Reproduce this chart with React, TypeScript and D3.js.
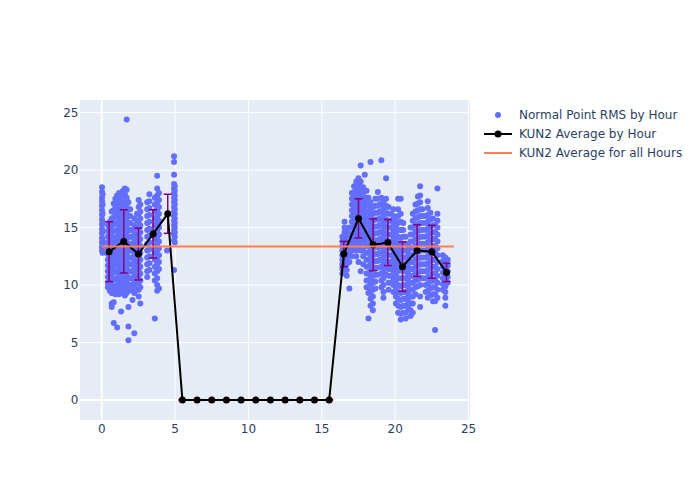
import React from "react";
import * as d3 from "d3";

// Normal point RMS samples, grouped in vertical passes: [hour, rms values]
const normalPointPasses: [number, number[]][] = [
  [0.02, [18.5, 18.1, 17.6, 17.3, 16.9, 16.5, 16.1, 15.7, 15.3, 14.9, 14.5, 14.1, 13.7, 13.3, 13.0]],
  [0.06, [17.9, 17.0, 16.2, 15.5, 14.7, 13.9, 13.5, 12.8]],
  [0.42, [15.2, 14.7, 14.2, 13.7, 13.2, 12.7, 12.2, 11.7, 11.2, 10.7, 10.2, 9.8]],
  [0.55, [15.5, 14.9, 14.4, 13.9, 13.4, 12.9, 12.4, 11.9, 11.4, 10.9, 10.4, 9.9, 9.5]],
  [0.68, [16.4, 15.8, 15.1, 14.5, 13.9, 13.3, 12.7, 12.1, 11.5, 10.9, 10.3, 9.7, 9.3, 8.4, 8.1]],
  [0.82, [17.1, 16.5, 15.9, 15.3, 14.7, 14.1, 13.5, 12.9, 12.3, 11.7, 11.1, 10.5, 9.9, 9.4, 8.5, 6.7]],
  [0.93, [17.5, 16.8, 16.1, 15.4, 14.7, 14.0, 13.3, 12.6, 11.9, 11.2, 10.5, 9.8, 9.2]],
  [1.05, [17.8, 17.2, 16.6, 16.0, 15.4, 14.8, 14.2, 13.6, 13.0, 12.4, 11.8, 11.2, 10.6, 10.0, 9.4, 6.3]],
  [1.18, [18.0, 17.5, 16.9, 16.3, 15.7, 15.1, 14.5, 13.9, 13.3, 12.7, 12.1, 11.5, 10.9, 10.3, 9.7, 9.2]],
  [1.32, [17.7, 17.1, 16.5, 15.9, 15.3, 14.7, 14.1, 13.5, 12.9, 12.3, 11.7, 11.1, 10.5, 9.9, 9.4, 7.7]],
  [1.45, [18.2, 17.8, 17.2, 16.6, 16.0, 15.4, 14.8, 14.2, 13.6, 13.0, 12.4, 11.8, 11.2, 10.6, 10.0, 9.5]],
  [1.58, [18.4, 17.9, 17.3, 16.7, 16.1, 15.5, 14.9, 14.3, 13.7, 13.1, 12.5, 11.9, 11.3, 10.7, 10.1, 9.6, 9.1]],
  [1.7, [24.4, 18.3, 17.6, 17.0, 16.4, 15.8, 15.2, 14.6, 14.0, 13.4, 12.8, 12.2, 11.6, 11.0, 10.4, 9.8, 9.3]],
  [1.82, [17.2, 16.6, 16.0, 15.4, 14.8, 14.2, 13.6, 13.0, 12.4, 11.8, 11.2, 10.6, 10.0, 9.5, 8.1, 6.4, 5.2]],
  [1.94, [16.6, 16.0, 15.4, 14.8, 14.2, 13.6, 13.0, 12.4, 11.8, 11.2, 10.6, 10.0, 9.6]],
  [2.1, [14.8, 14.2, 13.6, 13.0, 12.4, 11.8, 11.2, 10.6, 10.0, 9.5, 8.7]],
  [2.22, [15.8, 15.2, 14.6, 14.0, 13.4, 12.8, 12.2, 11.6, 11.0, 10.4, 9.8, 9.3, 5.8]],
  [2.4, [16.2, 15.6, 15.0, 14.4, 13.8, 13.2, 12.6, 12.0, 11.4, 10.8, 10.2, 9.6]],
  [2.52, [17.4, 16.8, 16.2, 15.6, 15.0, 14.4, 13.8, 13.2, 12.6, 12.0, 11.4, 10.8, 10.2, 9.6, 9.0]],
  [2.63, [17.0, 16.4, 15.8, 15.2, 14.6, 14.0, 13.4, 12.8, 12.2, 11.6, 11.0, 10.4, 9.8, 8.4]],
  [3.1, [17.2, 16.6, 16.0, 15.4, 14.8, 14.2, 13.6, 13.0, 12.4, 11.8, 11.2, 10.7]],
  [3.25, [17.9, 17.3, 16.7, 16.1, 15.5, 14.9, 14.3, 13.7, 13.1, 12.5, 11.9, 11.3]],
  [3.62, [17.6, 17.0, 16.4, 15.8, 15.2, 14.6, 14.0, 13.4, 12.8, 12.2, 11.6, 11.0, 10.4, 7.1]],
  [3.78, [19.5, 18.4, 17.8, 17.2, 16.6, 16.0, 15.4, 14.8, 14.2, 13.6, 13.0, 12.4, 11.8, 11.2, 10.6, 10.0, 9.5]],
  [3.9, [18.0, 17.4, 16.8, 16.2, 15.6, 15.0, 14.4, 13.8, 13.2, 12.6, 12.0, 11.4, 9.7]],
  [4.45, [13.0]],
  [4.93, [21.2, 20.7, 19.6, 18.8, 18.4, 18.0, 17.6, 17.2, 16.8, 16.4, 16.0, 15.6, 15.2, 14.8, 14.4, 13.9, 11.3]],
  [4.98, [18.6, 18.2, 17.8, 17.4, 17.0, 16.6, 16.2, 15.8, 15.4, 15.0, 14.6, 14.2, 13.7]],
  [16.4, [14.2, 13.8, 13.4, 13.0, 12.6, 12.2, 11.8, 11.4, 11.0]],
  [16.55, [15.5, 15.0, 14.6, 14.2, 13.8, 13.4, 13.0, 12.6, 12.2, 11.8, 11.4]],
  [16.7, [14.8, 14.3, 13.8, 13.3, 12.8, 12.3, 11.8, 11.3, 10.8]],
  [16.88, [15.0, 14.4, 13.8, 13.2, 12.6, 12.0, 9.7]],
  [17.05, [18.0, 17.5, 17.0, 16.5, 16.0, 15.5, 15.0, 14.5, 14.0, 13.5, 13.0, 12.5]],
  [17.2, [18.6, 18.1, 17.6, 17.1, 16.6, 16.1, 15.6, 15.1, 14.6, 14.1, 13.6, 13.1]],
  [17.35, [19.0, 18.5, 18.0, 17.5, 17.0, 16.5, 16.0, 15.5, 15.0, 14.5, 14.0, 13.5, 13.0, 12.5]],
  [17.5, [19.3, 18.8, 18.3, 17.8, 17.3, 16.8, 16.3, 15.8, 15.3, 14.8, 14.3, 13.8, 13.3, 12.0]],
  [17.65, [20.4, 19.0, 18.5, 18.0, 17.5, 17.0, 16.5, 16.0, 15.5, 15.0, 14.5, 14.0, 13.5, 13.0, 11.2]],
  [17.82, [18.5, 18.0, 17.5, 17.0, 16.5, 16.0, 15.5, 15.0, 14.5, 14.0, 13.5, 13.0, 12.5, 11.8]],
  [17.93, [19.6, 17.4, 16.8, 16.2, 15.6, 15.0, 14.4, 13.8]],
  [18.05, [18.2, 17.6, 17.0, 16.4, 15.8, 15.2, 14.6, 14.0, 13.4, 12.8, 12.2, 11.6, 11.0, 10.4, 9.8]],
  [18.18, [17.6, 17.0, 16.4, 15.8, 15.2, 14.6, 14.0, 13.4, 12.8, 12.2, 11.6, 11.0, 10.4, 9.8, 9.3, 7.1]],
  [18.32, [20.7, 17.2, 16.6, 16.0, 15.4, 14.8, 14.2, 13.6, 13.0, 12.4, 11.8, 11.2, 10.6, 10.0, 9.4, 8.8, 8.2]],
  [18.48, [16.8, 16.2, 15.6, 15.0, 14.4, 13.8, 13.2, 12.6, 12.0, 11.4, 10.8, 10.2, 9.6, 9.0, 8.4, 7.8]],
  [18.65, [17.5, 16.9, 16.3, 15.7, 15.1, 14.5, 13.9, 13.3, 12.7, 12.1, 11.5, 10.9, 10.3, 9.7]],
  [18.82, [18.1, 17.5, 16.9, 16.3, 15.7, 15.1, 14.5, 13.9, 13.3, 12.7, 12.1, 11.5, 10.9]],
  [18.95, [17.0, 16.4, 15.8, 15.2, 14.6, 14.0, 13.4, 12.8, 12.2]],
  [19.06, [20.85, 17.6, 17.0, 16.4, 15.8, 15.2, 14.6, 14.0, 13.4, 12.8, 12.2, 11.6, 11.0, 10.4, 9.8]],
  [19.2, [17.2, 16.6, 16.0, 15.4, 14.8, 14.2, 13.6, 13.0, 12.4, 11.8, 11.2, 10.6, 10.0, 9.4, 8.9]],
  [19.38, [19.3, 17.5, 16.9, 16.3, 15.7, 15.1, 14.5, 13.9, 13.3, 12.7, 12.1, 11.5, 10.9]],
  [19.55, [16.8, 16.2, 15.6, 15.0, 14.4, 13.8, 13.2, 12.6, 12.0, 11.4, 10.8, 10.2, 9.6]],
  [19.72, [16.2, 15.6, 15.0, 14.4, 13.8, 13.2, 12.6, 12.0, 11.4, 10.8, 10.2]],
  [19.88, [16.6, 16.0, 15.4, 14.8, 14.2, 13.6, 13.0, 12.4, 11.8, 11.2, 10.6, 10.0, 9.4]],
  [20.05, [15.6, 15.0, 14.4, 13.8, 13.2, 12.6, 12.0, 11.4, 10.8, 10.2, 9.6, 9.0, 8.4]],
  [20.2, [17.5, 16.6, 16.0, 15.4, 14.8, 14.2, 13.6, 13.0, 12.4, 11.8, 11.2, 10.6, 10.0, 9.4, 8.8, 8.2, 7.6]],
  [20.38, [17.5, 16.2, 15.5, 14.8, 14.1, 13.4, 12.7, 12.0, 11.3, 10.6, 9.9, 9.3, 8.7, 8.1, 7.5, 7.0]],
  [20.55, [15.4, 14.8, 14.2, 13.6, 13.0, 12.4, 11.8, 11.2, 10.6, 10.0, 9.4, 8.8, 8.2, 7.6]],
  [20.72, [14.2, 13.6, 13.0, 12.4, 11.8, 11.2, 10.6, 10.0, 9.4, 8.8, 8.2, 7.6, 7.1]],
  [20.88, [13.4, 12.8, 12.2, 11.6, 11.0, 10.4, 9.8, 9.2, 8.6, 8.0]],
  [21.05, [15.0, 14.4, 13.8, 13.2, 12.6, 12.0, 11.4, 10.8, 10.2, 9.6, 9.0, 8.4, 7.8, 7.3]],
  [21.2, [16.2, 15.6, 15.0, 14.4, 13.8, 13.2, 12.6, 12.0, 11.4, 10.8, 10.2, 9.6, 9.0, 8.4, 7.6]],
  [21.38, [17.0, 16.4, 15.8, 15.2, 14.6, 14.0, 13.4, 12.8, 12.2, 11.6, 11.0, 10.4, 9.8, 9.2]],
  [21.55, [17.7, 17.1, 16.5, 15.9, 15.3, 14.7, 14.1, 13.5, 12.9, 12.3, 11.7, 11.1, 10.5, 9.9]],
  [21.7, [18.6, 17.8, 17.2, 16.6, 16.0, 15.4, 14.8, 14.2, 13.6, 13.0, 12.4, 11.8, 11.2, 10.6, 10.0, 9.0, 8.1]],
  [21.85, [16.6, 16.0, 15.4, 14.8, 14.2, 13.6, 13.0, 12.4, 11.8, 11.2, 10.6]],
  [22.08, [16.0, 15.4, 14.8, 14.2, 13.6, 13.0, 12.4, 11.8, 11.2, 10.6, 10.0, 9.4]],
  [22.22, [17.3, 16.7, 16.1, 15.5, 14.9, 14.3, 13.7, 13.1, 12.5, 11.9, 11.3, 10.7, 10.1, 9.5, 8.9]],
  [22.4, [16.3, 15.7, 15.1, 14.5, 13.9, 13.3, 12.7, 12.1, 11.5, 10.9, 10.3, 9.7, 9.1]],
  [22.58, [15.8, 15.2, 14.6, 14.0, 13.4, 12.8, 12.2, 11.6, 11.0, 10.4, 9.8, 9.2, 8.6]],
  [22.72, [15.2, 14.6, 14.0, 13.4, 12.8, 12.2, 11.6, 11.0, 10.4, 9.8, 9.2, 8.6, 6.1]],
  [22.88, [18.4, 16.2, 15.6, 15.0, 14.4, 13.8, 13.2, 12.6, 12.0, 11.4, 10.8, 10.2, 9.6, 8.9]],
  [23.25, [12.6, 12.1, 11.6, 11.1, 10.6, 10.1, 9.6]],
  [23.42, [12.4, 11.9, 11.4, 10.9, 10.4, 9.9, 9.4, 8.9, 8.2]],
  [23.58, [12.2, 11.7, 11.2, 10.7, 10.2]],
];

const avgHours = [0.5, 1.5, 2.5, 3.5, 4.5, 5.5, 6.5, 7.5, 8.5, 9.5, 10.5, 11.5, 12.5, 13.5, 14.5, 15.5, 16.5, 17.5, 18.5, 19.5, 20.5, 21.5, 22.5, 23.5];
const avgValues = [12.9, 13.8, 12.7, 14.45, 16.2, 0, 0, 0, 0, 0, 0, 0, 0, 0, 0, 0, 12.7, 15.8, 13.5, 13.7, 11.6, 13.0, 12.9, 11.1];
const avgStd = [2.6, 2.75, 2.25, 2.1, 1.7, 0, 0, 0, 0, 0, 0, 0, 0, 0, 0, 0, 1.1, 1.7, 2.25, 2.0, 2.15, 2.25, 2.3, 0.8];

const overallAvgX = [0, 24];
const overallAvgValue = 13.35;

const xTicks = [0, 5, 10, 15, 20, 25];
const yTicks = [0, 5, 10, 15, 20, 25];
const legendLabels = ["Normal Point RMS by Hour", "KUN2 Average by Hour", "KUN2 Average for all Hours"];

const W = 700;
const H = 500;
const plot = { left: 80, top: 100, right: 470, bottom: 420 };
const FONT = "'DejaVu Sans', Verdana, sans-serif";
const TXT = "#2a3f5f";

export default function App() {
  const x = d3.scaleLinear().domain([-1.48, 25.1]).range([plot.left, plot.right]);
  const y = d3.scaleLinear().domain([-1.74, 26.1]).range([plot.bottom, plot.top]);

  const points: { px: number; py: number }[] = [];
  normalPointPasses.forEach(([h, ys]) => ys.forEach((v) => points.push({ px: x(h), py: y(v) })));

  const avgLine = d3
    .line<number>()
    .x((_, i) => x(avgHours[i]))
    .y((d) => y(d))(avgValues) as string;

  const cap = 4;
  const legendX = 484;
  const legendRows = [115, 134, 153];

  return (
    <svg width={W} height={H} style={{ position: "absolute", left: 0, top: 0, background: "#fff" }}>
      <defs>
        <clipPath id="plotClip">
          <rect x={plot.left} y={plot.top} width={plot.right - plot.left} height={plot.bottom - plot.top} />
        </clipPath>
      </defs>
      <rect x={plot.left} y={plot.top} width={plot.right - plot.left} height={plot.bottom - plot.top} fill="#e5ecf6" />
      {xTicks.map((t) => (
        <line key={"gx" + t} x1={x(t)} x2={x(t)} y1={plot.top} y2={plot.bottom} stroke="#fff" strokeWidth={t === 0 ? 2 : 1} />
      ))}
      {yTicks.map((t) => (
        <line key={"gy" + t} x1={plot.left} x2={plot.right} y1={y(t)} y2={y(t)} stroke="#fff" strokeWidth={t === 0 ? 2 : 1} />
      ))}
      <g clipPath="url(#plotClip)">
        {points.map((p, i) => (
          <circle key={"p" + i} cx={p.px} cy={p.py} r={3} fill="#636efa" />
        ))}
        {avgHours.map((h, i) => (
          <g key={"e" + i} stroke="#800080" strokeWidth={1.5}>
            <line x1={x(h)} x2={x(h)} y1={y(avgValues[i] - avgStd[i])} y2={y(avgValues[i] + avgStd[i])} />
            <line x1={x(h) - cap} x2={x(h) + cap} y1={y(avgValues[i] + avgStd[i])} y2={y(avgValues[i] + avgStd[i])} />
            <line x1={x(h) - cap} x2={x(h) + cap} y1={y(avgValues[i] - avgStd[i])} y2={y(avgValues[i] - avgStd[i])} />
          </g>
        ))}
        <path d={avgLine} fill="none" stroke="#000" strokeWidth={2} />
        {avgHours.map((h, i) => (
          <circle key={"m" + i} cx={x(h)} cy={y(avgValues[i])} r={3.5} fill="#000" />
        ))}
        <line x1={x(overallAvgX[0])} x2={x(overallAvgX[1])} y1={y(overallAvgValue)} y2={y(overallAvgValue)} stroke="#ff7f50" strokeWidth={2} />
      </g>
      {xTicks.map((t) => (
        <text key={"tx" + t} x={x(t)} y={432.5} textAnchor="middle" fontFamily={FONT} fontSize={12} fill={TXT}>
          {t}
        </text>
      ))}
      {yTicks.map((t) => (
        <text key={"ty" + t} x={78.5} y={y(t)} dy="0.36em" textAnchor="end" fontFamily={FONT} fontSize={12} fill={TXT}>
          {t}
        </text>
      ))}
      <g>
        <circle cx={legendX + 14} cy={legendRows[0]} r={3} fill="#636efa" />
        <line x1={legendX} x2={legendX + 28} y1={legendRows[1]} y2={legendRows[1]} stroke="#000" strokeWidth={2} />
        <circle cx={legendX + 14} cy={legendRows[1]} r={3.5} fill="#000" />
        <line x1={legendX} x2={legendX + 28} y1={legendRows[2]} y2={legendRows[2]} stroke="#ff7f50" strokeWidth={2} />
        {legendLabels.map((l, i) => (
          <text key={l} x={legendX + 35} y={legendRows[i]} dy="0.36em" fontFamily={FONT} fontSize={12} fill={TXT}>
            {l}
          </text>
        ))}
      </g>
    </svg>
  );
}
